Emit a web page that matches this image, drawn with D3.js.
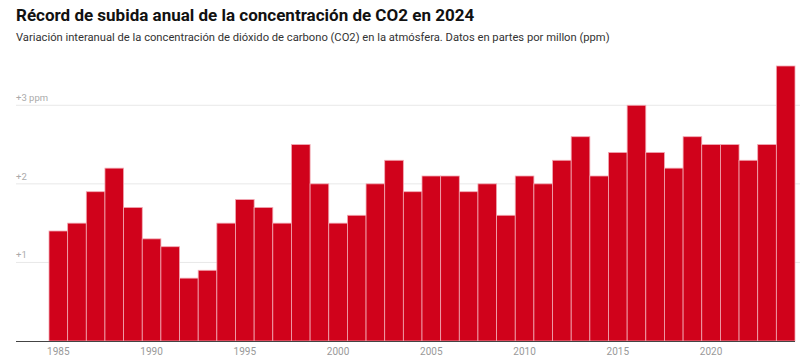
<!DOCTYPE html>
<html>
<head>
<meta charset="utf-8">
<script src="https://cdn.jsdelivr.net/npm/d3@7"></script>
<style>
  body { margin: 0; background: #fff; }
  svg { font-family: Roboto, "Noto Sans", sans-serif; }
</style>
</head>
<body>
<div id="chart"></div>
<script>
var years = d3.range(1985, 2025);
var values = [1.4, 1.5, 1.9, 2.2, 1.7, 1.3, 1.2, 0.8, 0.9, 1.5,
              1.8, 1.7, 1.5, 2.5, 2.0, 1.5, 1.6, 2.0, 2.3, 1.9,
              2.1, 2.1, 1.9, 2.0, 1.6, 2.1, 2.0, 2.3, 2.6, 2.1,
              2.4, 3.0, 2.4, 2.2, 2.6, 2.5, 2.5, 2.3, 2.5, 3.5];
var yTicks = [1, 2, 3];
var yTickLabels = ["+1", "+2", "+3 ppm"];
var xTicks = [1985, 1990, 1995, 2000, 2005, 2010, 2015, 2020];

var width = 800, height = 358;
var left = 16;

var svg = d3.select("#chart").append("svg")
    .attr("width", width)
    .attr("height", height);

svg.append("text")
    .attr("x", left).attr("y", 21)
    .style("font-size", "17px")
    .style("font-weight", "bold")
    .style("fill", "#111")
    .text("Récord de subida anual de la concentración de CO2 en 2024");

svg.append("text")
    .attr("x", left).attr("y", 41)
    .style("font-size", "11.2px")
    .style("fill", "#333")
    .text("Variación interanual de la concentración de dióxido de carbono (CO2) en la atmósfera. Datos en partes por millon (ppm)");

var x = d3.scaleBand()
    .domain(years)
    .range([49, 795])
    .padding(0);

var y = d3.scaleLinear()
    .domain([0, 3.5])
    .range([341, 66]);

// gridlines + labels
var grid = svg.append("g");
grid.selectAll("line")
    .data(yTicks)
    .enter().append("line")
    .attr("x1", left)
    .attr("x2", width)
    .attr("y1", function(d) { return y(d); })
    .attr("y2", function(d) { return y(d); })
    .style("stroke", "#e8e8e8")
    .style("stroke-width", 1);
grid.selectAll("text")
    .data(yTicks)
    .enter().append("text")
    .attr("x", left)
    .attr("y", function(d) { return y(d) - 4; })
    .style("font-size", "9.5px")
    .style("fill", "#aaa")
    .text(function(d, i) { return yTickLabels[i]; });

// bars
svg.append("g").selectAll("rect")
    .data(values)
    .enter().append("rect")
    .attr("x", function(d, i) { return x(years[i]); })
    .attr("y", function(d) { return y(d); })
    .attr("width", x.bandwidth())
    .attr("height", function(d) { return y(0) - y(d); })
    .style("fill", "#d0021b")
    .style("stroke", "#f2a9b3")
    .style("stroke-width", 0.8);

// baseline
svg.append("line")
    .attr("x1", left)
    .attr("x2", 795)
    .attr("y1", y(0) + 0.5)
    .attr("y2", y(0) + 0.5)
    .style("stroke", "#444")
    .style("stroke-width", 1);

// x labels
var xAxis = d3.axisBottom(x)
    .tickValues(xTicks)
    .tickSize(0)
    .tickPadding(7);
var gx = svg.append("g")
    .attr("transform", "translate(0," + y(0) + ")")
    .call(xAxis);
gx.select(".domain").remove();
gx.selectAll("text")
    .style("font-family", "Roboto, sans-serif")
    .style("font-size", "10px")
    .style("fill", "#999");
</script>
</body>
</html>
